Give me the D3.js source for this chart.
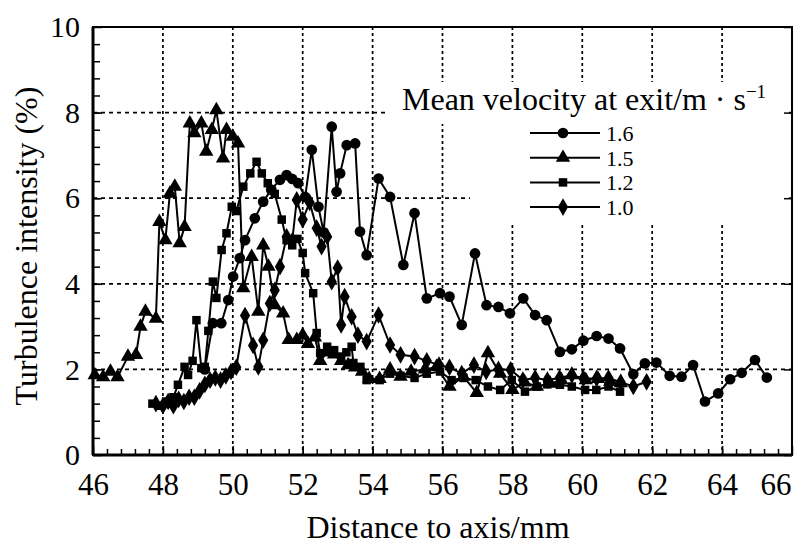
<!DOCTYPE html>
<html>
<head>
<meta charset="utf-8">
<script src="https://cdn.jsdelivr.net/npm/d3@7"></script>
<style>
  body { margin: 0; background: #fff; }
  svg text { font-family: "Liberation Serif", "Times New Roman", "DejaVu Serif", serif; }
</style>
</head>
<body>
<div id="chart"></div>
<script>
// tick labels
var xTicks = [46, 48, 50, 52, 54, 56, 58, 60, 62, 64, 66];
var yTicks = [0, 2, 4, 6, 8, 10];
var names = ["1.6", "1.5", "1.2", "1.0"];

// series values: [distance mm, turbulence %]
var v16 = [[49.2,2.0],[49.43,3.08],[49.67,3.08],[49.87,3.62],[50.01,4.17],[50.2,4.6],[50.35,5.02],
  [50.63,5.53],[50.87,5.92],[51.1,6.2],[51.35,6.43],[51.54,6.54],[51.7,6.45],[51.87,6.35],[52.07,6.03],
  [52.26,7.13],[52.45,5.8],[52.6,5.2],[52.83,7.67],[52.97,6.15],[53.07,6.58],[53.26,7.24],[53.5,7.28],
  [53.64,5.22],[53.83,4.67],[54.17,6.46],[54.5,6.03],[54.88,4.44],[55.2,5.65],[55.55,3.66],[55.93,3.78],
  [56.2,3.7],[56.55,3.04],[56.93,4.71],[57.26,3.5],[57.6,3.46],[57.93,3.31],[58.31,3.66],[58.65,3.27],
  [58.98,3.15],[59.36,2.41],[59.7,2.47],[60.03,2.67],[60.41,2.78],[60.75,2.72],[61.08,2.49],[61.46,1.89],
  [61.79,2.14],[62.12,2.16],[62.5,1.85],[62.84,1.83],[63.17,2.1],[63.51,1.25],[63.89,1.44],[64.23,1.77],
  [64.56,1.92],[64.94,2.22],[65.28,1.81]];
var v15 = [[46.05,1.87],[46.29,1.82],[46.5,1.95],[46.7,1.82],[47.0,2.3],[47.23,2.34],[47.36,3.0],
  [47.5,3.35],[47.8,3.19],[47.9,5.45],[48.07,5.02],[48.2,6.11],[48.34,6.27],[48.48,4.95],[48.62,5.33],
  [48.77,7.75],[48.9,7.52],[49.1,7.75],[49.24,7.09],[49.4,7.6],[49.53,8.06],[49.72,6.93],[49.82,7.6],
  [50.0,7.44],[50.15,7.28],[50.3,3.9],[50.54,4.63],[50.73,3.35],[50.87,4.9],[51.02,4.4],[51.2,3.5],
  [51.44,3.31],[51.6,2.69],[51.83,2.69],[52.0,2.8],[52.15,2.6],[52.35,2.75],[52.5,2.2],[52.7,2.4],
  [52.9,2.35],[53.1,2.2],[53.3,2.1],[53.5,2.05],[53.7,1.95],[53.9,1.78],[54.2,1.78],[54.5,2.0],
  [54.8,1.83],[55.1,1.95],[55.5,2.0],[55.83,2.06],[56.2,1.6],[56.6,1.83],[56.98,1.45],[57.3,2.38],
  [57.65,1.9],[58.0,1.52],[58.35,1.7],[58.7,1.6],[59.08,1.67],[59.4,1.75],[59.7,1.87],[60.1,1.75],
  [60.45,1.78],[60.8,1.71],[61.1,1.68]];
var v12 = [[47.7,1.2],[47.9,1.15],[48.1,1.25],[48.3,1.35],[48.43,1.64],[48.62,2.06],[48.72,1.87],
  [48.85,2.2],[48.96,3.15],[49.1,2.03],[49.2,2.06],[49.3,2.9],[49.43,4.05],[49.53,3.67],[49.68,4.79],
  [49.82,5.18],[49.97,5.8],[50.1,5.7],[50.3,6.27],[50.5,6.58],[50.68,6.85],[50.83,6.58],[51.0,6.35],
  [51.2,6.1],[51.4,5.5],[51.54,5.02],[51.7,4.9],[51.85,5.05],[52.0,4.72],[52.07,4.25],[52.3,3.78],
  [52.4,2.85],[52.5,2.38],[52.7,2.53],[52.9,2.45],[53.1,2.3],[53.25,2.4],[53.4,2.53],[53.45,2.15],
  [53.65,2.06],[53.83,1.75],[54.2,1.75],[54.5,1.9],[54.8,1.85],[55.2,1.8],[55.55,1.9],[55.93,1.95],
  [56.26,1.75],[56.6,1.8],[56.95,1.75],[57.3,1.6],[57.65,1.52],[57.98,1.75],[58.36,1.48],[58.7,1.6],
  [59.0,1.65],[59.36,1.64],[59.7,1.6],[60.08,1.52],[60.4,1.52],[60.75,1.6],[61.08,1.48]];
var v10 = [[47.8,1.2],[48.0,1.15],[48.15,1.25],[48.3,1.15],[48.45,1.3],[48.6,1.25],[48.75,1.35],
  [48.9,1.35],[49.05,1.5],[49.2,1.65],[49.35,1.75],[49.5,1.8],[49.65,1.75],[49.8,1.85],[49.95,1.95],
  [50.1,2.05],[50.35,3.26],[50.58,2.56],[50.73,2.06],[50.87,2.68],[51.06,3.54],[51.2,3.85],[51.35,4.4],
  [51.54,5.1],[51.7,5.0],[51.83,5.96],[52.0,5.5],[52.2,5.9],[52.4,5.3],[52.54,4.87],[52.7,5.1],
  [52.83,4.05],[53.0,4.37],[53.1,3.04],[53.2,3.7],[53.4,3.23],[53.58,2.8],[53.83,2.65],[54.17,3.27],
  [54.5,2.57],[54.8,2.34],[55.2,2.3],[55.55,2.2],[55.9,2.1],[56.2,2.05],[56.55,1.9],[56.9,2.1],
  [57.25,1.95],[57.6,2.0],[57.95,1.99],[58.3,1.75],[58.65,1.8],[59.0,1.75],[59.35,1.8],[59.7,1.87],
  [60.03,1.79],[60.41,1.79],[60.75,1.8],[61.1,1.7],[61.46,1.6],[61.84,1.71]];

var margin = {top: 27, right: 8, bottom: 89, left: 93},
    width = 800 - margin.left - margin.right,
    height = 544 - margin.top - margin.bottom;

var FONT = "'Liberation Serif', 'Times New Roman', serif";

var svg = d3.select("#chart")
  .append("svg")
    .attr("width", 800)
    .attr("height", 544)
  .append("g")
    .attr("transform", "translate(" + margin.left + "," + margin.top + ")");

var x = d3.scaleLinear().domain([46, 66]).range([0, width]);
var y = d3.scaleLinear().domain([0, 10]).range([height, 0]);

// dotted grid
svg.append("g")
  .selectAll("line")
  .data(xTicks.slice(1, -1))
  .enter().append("line")
    .attr("x1", function(d) { return x(d); })
    .attr("x2", function(d) { return x(d); })
    .attr("y1", 0).attr("y2", height)
    .attr("stroke", "#000").attr("stroke-width", 1.7)
    .attr("stroke-dasharray", "3,3");
svg.append("g")
  .selectAll("line")
  .data(yTicks.slice(1, -1))
  .enter().append("line")
    .attr("y1", function(d) { return y(d); })
    .attr("y2", function(d) { return y(d); })
    .attr("x1", 0).attr("x2", width)
    .attr("stroke", "#000").attr("stroke-width", 1.7)
    .attr("stroke-dasharray", "4,4");

// legend background hides grid
svg.append("rect").attr("x", 388 - margin.left).attr("y", 82 - margin.top)
  .attr("width", 392).attr("height", 42).attr("fill", "#fff");
svg.append("rect").attr("x", 470 - margin.left).attr("y", 82 - margin.top)
  .attr("width", 318).attr("height", 143).attr("fill", "#fff");

var series = [v16, v15, v12, v10];
var shapes = [d3.symbolCircle, d3.symbolTriangle, d3.symbolSquare, d3.symbolDiamond];
var sizes = [90, 90, 72, 90];

var line = d3.line()
  .x(function(d) { return x(d[0]); })
  .y(function(d) { return y(d[1]); });

series.forEach(function(s, i) {
  svg.append("path")
    .datum(s)
    .attr("d", line)
    .attr("fill", "none")
    .attr("stroke", "#000")
    .attr("stroke-width", 2);
  svg.append("g")
    .selectAll("path")
    .data(s)
    .enter().append("path")
      .attr("d", d3.symbol().type(shapes[i]).size(sizes[i]))
      .attr("transform", function(d) { return "translate(" + x(d[0]) + "," + y(d[1]) + ")"; })
      .attr("fill", "#000");
});

// frame
svg.append("rect")
  .attr("width", width).attr("height", height)
  .attr("fill", "none").attr("stroke", "#000").attr("stroke-width", 2);
svg.append("line").attr("x1", 0).attr("x2", 0).attr("y1", 0).attr("y2", height)
  .attr("stroke", "#000").attr("stroke-width", 3);
svg.append("line").attr("x1", 0).attr("x2", width).attr("y1", height).attr("y2", height)
  .attr("stroke", "#000").attr("stroke-width", 3);

// minor ticks (inward)
svg.append("g")
  .attr("transform", "translate(0," + height + ")")
  .call(d3.axisBottom(x).tickValues(d3.range(46.4, 66, 0.4)).tickSize(-6).tickFormat(""))
  .call(function(g) { g.select(".domain").remove(); g.selectAll("line").attr("stroke-width", 1.5); });
svg.append("g")
  .call(d3.axisLeft(y).tickValues(d3.range(0.4, 10, 0.4)).tickSize(-7).tickFormat(""))
  .call(function(g) { g.select(".domain").remove(); g.selectAll("line").attr("stroke-width", 1.5); });
svg.append("g")
  .attr("transform", "translate(" + width + ",0)")
  .call(d3.axisRight(y).tickValues(yTicks).tickSize(-8).tickFormat(""))
  .call(function(g) { g.select(".domain").remove(); g.selectAll("line").attr("stroke-width", 1.5); });

// major axes with labels
svg.append("g")
  .attr("transform", "translate(0," + height + ")")
  .call(d3.axisBottom(x).tickValues(xTicks).tickSize(-9).tickFormat(d3.format("d")))
  .call(function(g) {
    g.attr("font-family", FONT).attr("font-size", 31);
    g.select(".domain").remove();
    g.selectAll("line").attr("stroke-width", 1.5);
    g.selectAll("text").attr("y", 40).attr("dy", null).attr("fill", "#000")
      .attr("text-anchor", function(d) { return d === 66 ? "end" : "middle"; })
      .attr("x", function(d) { return d === 66 ? -1 : 0; });
  });
svg.append("g")
  .call(d3.axisLeft(y).tickValues(yTicks).tickSize(-9).tickFormat(d3.format("d")))
  .call(function(g) {
    g.attr("font-family", FONT).attr("font-size", 30);
    g.select(".domain").remove();
    g.selectAll("line").attr("stroke-width", 1.5);
    g.selectAll("text").attr("x", -13).attr("fill", "#000");
  });

// axis titles
svg.append("text")
  .attr("x", 438 - margin.left).attr("y", 538 - margin.top)
  .attr("text-anchor", "middle").attr("font-size", 32)
  .attr("font-family", FONT)
  .text("Distance to axis/mm");
svg.append("text")
  .attr("transform", "translate(" + (37 - margin.left) + "," + (246 - margin.top) + ") rotate(-90)")
  .attr("text-anchor", "middle").attr("font-size", 32)
  .attr("font-family", FONT)
  .text("Turbulence intensity (%)");

// legend
var lt = svg.append("text")
  .attr("x", 402 - margin.left).attr("y", 110 - margin.top)
  .attr("font-size", 32)
  .attr("font-family", FONT)
  .text("Mean velocity at exit/m \u00b7 s");
lt.append("tspan").attr("dy", -12).attr("font-size", 19).text("\u22121");

var leg = svg.append("g").attr("font-family", FONT);
names.forEach(function(n, i) {
  var yy = 133 - margin.top + i * 24.7;
  leg.append("line")
    .attr("x1", 530 - margin.left).attr("x2", 600 - margin.left)
    .attr("y1", yy).attr("y2", yy)
    .attr("stroke", "#000").attr("stroke-width", 2);
  leg.append("path")
    .attr("d", d3.symbol().type(shapes[i]).size(sizes[i]))
    .attr("transform", "translate(" + (563 - margin.left) + "," + yy + ")");
  leg.append("text")
    .attr("x", 606 - margin.left).attr("y", yy + 8)
    .attr("font-size", 22)
    .text(n);
});
</script>
</body>
</html>
